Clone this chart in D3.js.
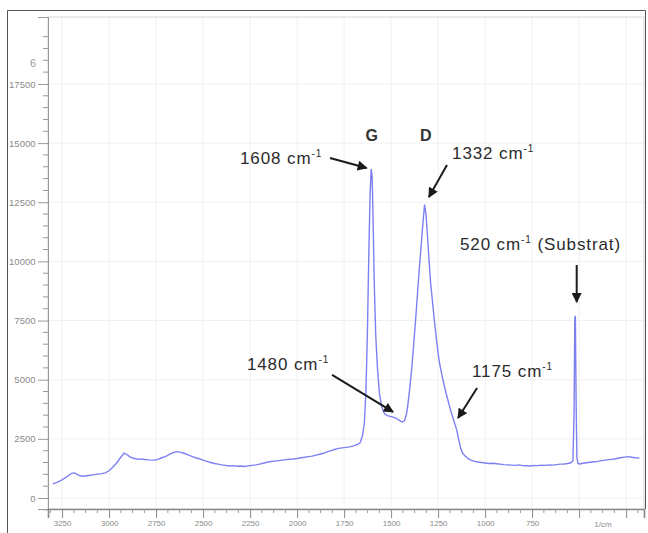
<!DOCTYPE html>
<html>
<head>
  <meta charset="utf-8">
  <title>Raman Spectrum</title>
  <style>
    body { margin: 0; background: #fff; }
    text { font-family: "Liberation Sans", Arial, sans-serif; }
  </style>
</head>
<body>
  <script src="https://d3js.org/d3.v7.min.js"></script>
  <script type="text/javascript">

// raman shift (cm-1) and intensity
var shifts = [3300, 3280, 3260, 3240, 3220, 3200, 3185, 3170, 3155, 3140, 3120, 3100, 3080, 3060, 3040, 3020,
  3000, 2985, 2960, 2940, 2920, 2905, 2890, 2870, 2850, 2820, 2790, 2760, 2740, 2720, 2700, 2680,
  2660, 2640, 2620, 2600, 2580, 2560, 2540, 2520, 2500, 2480, 2460, 2440, 2420, 2400, 2380, 2360,
  2340, 2320, 2300, 2280, 2260, 2240, 2220, 2200, 2180, 2160, 2140, 2120, 2100, 2080, 2060, 2040,
  2020, 2000, 1980, 1960, 1940, 1920, 1900, 1880, 1860, 1840, 1820, 1800, 1780, 1760, 1740, 1720,
  1700, 1680, 1665, 1652, 1642, 1634, 1626, 1619, 1612, 1606, 1601, 1596, 1590, 1582, 1572, 1562,
  1550, 1535, 1520, 1505, 1490, 1475, 1460, 1448, 1438, 1428, 1418, 1410, 1400, 1390, 1380, 1370,
  1360, 1350, 1340, 1330, 1322, 1314, 1306, 1298, 1290, 1280, 1270, 1260, 1250, 1240, 1230, 1220,
  1210, 1200, 1190, 1180, 1170, 1160, 1150, 1140, 1130, 1120, 1105, 1090, 1075, 1060, 1040, 1020,
  1000, 980, 960, 940, 920, 900, 880, 860, 840, 820, 800, 780, 760, 740, 720, 700,
  680, 660, 640, 620, 600, 580, 560, 545, 533, 527, 523, 520, 516, 512, 506, 495,
  480, 460, 440, 420, 400, 380, 360, 340, 320, 300, 280, 260, 240, 220, 200, 180];
var intensities = [600, 650, 720, 820, 930, 1040, 1060, 1000, 940, 920, 940, 960, 990, 1010, 1030, 1060,
  1150, 1270, 1480, 1700, 1900, 1840, 1740, 1680, 1650, 1640, 1610, 1600, 1630, 1700, 1750, 1840,
  1920, 1960, 1930, 1890, 1820, 1760, 1700, 1660, 1600, 1550, 1500, 1460, 1430, 1400, 1380, 1350,
  1370, 1340, 1350, 1330, 1360, 1380, 1400, 1430, 1470, 1510, 1540, 1560, 1580, 1600, 1620, 1640,
  1650, 1670, 1700, 1720, 1750, 1770, 1810, 1850, 1890, 1950, 2000, 2050, 2100, 2120, 2140, 2160,
  2200, 2260, 2330, 2650, 3200, 4500, 7000, 10200, 12800, 13900, 13600, 11800, 9200, 6900, 5400, 4400,
  3850, 3560, 3480, 3450, 3420, 3380, 3300, 3240, 3210, 3280, 3560, 4000, 4700, 5500, 6500, 7500,
  8600, 9700, 10700, 11700, 12400, 11950, 11000, 10000, 9100, 8300, 7500, 6800, 6100, 5600, 5200, 4850,
  4500, 4200, 3900, 3600, 3350, 3100, 2850, 2450, 2100, 1900, 1760, 1660, 1600, 1560, 1520, 1500,
  1480, 1460, 1470, 1450, 1430, 1410, 1400, 1390, 1380, 1400, 1370, 1360, 1350, 1380, 1370, 1390,
  1380, 1400, 1390, 1410, 1430, 1440, 1460, 1490, 1560, 3600, 7600, 7700, 4000, 1700, 1460, 1440,
  1470, 1490, 1510, 1530, 1550, 1580, 1600, 1620, 1640, 1670, 1700, 1730, 1750, 1720, 1700, 1690];

var xTickLabels = [3250, 3000, 2750, 2500, 2250, 2000, 1750, 1500, 1250, 1000, 750];
var xTickValues = [3250, 3000, 2750, 2500, 2250, 2000, 1750, 1500, 1250, 1000, 750, 500, 250];
var yTickValues = [0, 2500, 5000, 7500, 10000, 12500, 15000, 17500];

// annotations: label, text position, arrow start, arrow end (in data units)
var notes = [
  { label: "1608 cm", tx: 2304, ty: 14120, from: [1825, 14370], to: [1630, 13950] },
  { label: "1332 cm", tx: 1176, ty: 14330, from: [1203, 14070], to: [1299, 12720] },
  { label: "520 cm", extra: " (Substrat)", tx: 1134, ty: 10480, from: [513, 9850], to: [513, 8280] },
  { label: "1480 cm", tx: 2267, ty: 5410, from: [1814, 5200], to: [1490, 3640] },
  { label: "1175 cm", tx: 1070, ty: 5110, from: [1043, 4650], to: [1144, 3380] }
];
var bandLabels = [["G", 1603], ["D", 1316]];

var width = 648, height = 533;
var mLeft = 48, mRight = 644, mTop = 17, mBottom = 509;

var x = d3.scaleLinear().domain([3325, 155]).range([mLeft, mRight]);
var y = d3.scaleLinear().domain([-465, 20330]).range([mBottom, mTop]);

var svg = d3.select("body").append("svg")
    .attr("width", width)
    .attr("height", height);

svg.append("defs").append("marker")
    .attr("id", "head")
    .attr("viewBox", "0 0 10 10")
    .attr("refX", 9).attr("refY", 5)
    .attr("markerWidth", 5.5).attr("markerHeight", 5)
    .attr("markerUnits", "strokeWidth")
    .attr("orient", "auto")
  .append("path")
    .attr("d", "M0,0L10,5L0,10z")
    .attr("fill", "#1a1a1a");

// grid
svg.append("g").selectAll("line").data(xTickValues).enter().append("line")
    .attr("x1", function(d){ return x(d); }).attr("x2", function(d){ return x(d); })
    .attr("y1", mTop).attr("y2", mBottom)
    .style("stroke", "#f0f0f0");
svg.append("g").selectAll("line").data(yTickValues).enter().append("line")
    .attr("x1", mLeft).attr("x2", mRight)
    .attr("y1", function(d){ return y(d); }).attr("y2", function(d){ return y(d); })
    .style("stroke", "#f0f0f0");

// plot frame
svg.append("rect")
    .attr("x", mLeft).attr("y", mTop)
    .attr("width", mRight - mLeft).attr("height", mBottom - mTop)
    .style("fill", "none").style("stroke", "#d8d8d8");

// outer frame
svg.append("path")
    .attr("d", "M7.5,533V10.5H645.5V" + mBottom)
    .style("fill", "none").style("stroke", "#555");

// y axis
var yAxis = d3.axisLeft(y)
    .tickValues(yTickValues)
    .tickSize(10)
    .tickFormat(d3.format("d"));
var gy = svg.append("g").attr("transform", "translate(" + mLeft + ",0)").call(yAxis);
gy.select(".domain").attr("stroke", "#999");
gy.selectAll(".tick line").attr("stroke", "#999");
gy.selectAll(".tick text").style("font-size", "9.5px").style("fill", "#8a8a8a").attr("dx", "0.5");

var yMinor = d3.range(-500, 20500, 500).filter(function(d){ return d % 2500 !== 0; });
svg.append("g").selectAll("line").data(yMinor).enter().append("line")
    .attr("x1", mLeft - 5).attr("x2", mLeft)
    .attr("y1", function(d){ return y(d); }).attr("y2", function(d){ return y(d); })
    .style("stroke", "#999");

svg.append("text")
    .attr("x", 30).attr("y", 67)
    .style("font-size", "11px").style("fill", "#999")
    .text("6");

// x axis
var xAxis = d3.axisBottom(x)
    .tickValues(xTickValues)
    .tickSize(9)
    .tickFormat(function(d){ return xTickLabels.indexOf(d) >= 0 ? d : ""; });
var gx = svg.append("g").attr("transform", "translate(0," + mBottom + ")").call(xAxis);
gx.select(".domain").attr("stroke", "#888").attr("stroke-width", 1.6);
gx.selectAll(".tick line").attr("stroke", "#888");
gx.selectAll(".tick text").style("font-size", "8px").style("fill", "#8a8a8a").attr("y", 11);

var xMinor = d3.range(187.5, 3325, 62.5).filter(function(d){ return d % 250 !== 0; });
svg.append("g").selectAll("line").data(xMinor).enter().append("line")
    .attr("x1", function(d){ return x(d); }).attr("x2", function(d){ return x(d); })
    .attr("y1", mBottom).attr("y2", mBottom + 4)
    .style("stroke", "#999");

svg.append("text")
    .attr("x", 603).attr("y", 527)
    .attr("text-anchor", "middle")
    .style("font-size", "8px").style("fill", "#8a8a8a")
    .text("1/cm");

// spectrum
var data = shifts.map(function(s, i){ return [s, intensities[i]]; });
var line = d3.line()
    .x(function(d){ return x(d[0]); })
    .y(function(d){ return y(d[1]); });

svg.append("path")
    .datum(data)
    .attr("d", line)
    .style("fill", "none")
    .style("stroke", "#7d80f2")
    .style("stroke-width", 1.4);

// band labels
svg.selectAll(".band").data(bandLabels).enter().append("text")
    .attr("class", "band")
    .attr("x", function(d){ return x(d[1]); })
    .attr("y", 141)
    .attr("text-anchor", "middle")
    .style("font-size", "16px").style("font-weight", "bold").style("fill", "#333")
    .text(function(d){ return d[0]; });

// annotations
notes.forEach(function(n){
  var t = svg.append("text")
      .attr("x", x(n.tx)).attr("y", y(n.ty))
      .style("font-size", "17px").style("letter-spacing", "0.9px").style("fill", "#2b2b2b");
  t.append("tspan").text(n.label);
  t.append("tspan").attr("dy", -7).style("font-size", "10px").text("-1");
  if (n.extra) t.append("tspan").attr("dy", 7).text(n.extra);

  svg.append("line")
      .attr("x1", x(n.from[0])).attr("y1", y(n.from[1]))
      .attr("x2", x(n.to[0])).attr("y2", y(n.to[1]))
      .attr("marker-end", "url(#head)")
      .style("stroke", "#1a1a1a")
      .style("stroke-width", 2);
});

  </script>
</body>
</html>
